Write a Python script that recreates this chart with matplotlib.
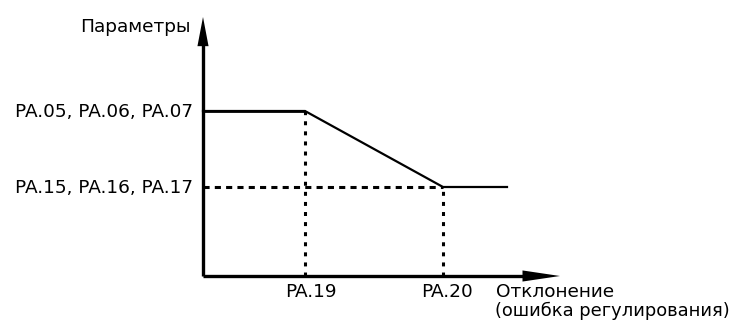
import matplotlib
matplotlib.use("Agg")
import matplotlib.pyplot as plt

plt.rcParams['font.family'] = ['DejaVu Sans']

# schematic values (horizontal: deviation, vertical: parameter level)
curve_x = [0, 102, 240, 304]
curve_y = [165, 165, 89, 89]
pa19 = 102
pa20 = 240
level_hi = 165
level_lo = 89
x_end = 357
y_end = 259

y_labels = ["PA.05, PA.06, PA.07", "PA.15, PA.16, PA.17"]
x_labels = ["PA.19", "PA.20"]
x_title = ["Отклонение", "(ошибка регулирования)"]
y_title = "Параметры"

fig = plt.figure(figsize=(7.35, 3.21), dpi=100)
ax = fig.add_axes([0, 0, 1, 1])
ax.set_xlim(-203, 735 - 203)
ax.set_ylim(-(321 - 276), 276)
ax.axis('off')

# axes with arrows
ax.plot([0, x_end - 30], [0, 0], color='black', lw=2.4, solid_capstyle='butt')
ax.plot([0, 0], [0, y_end - 25], color='black', lw=2.4, solid_capstyle='butt')
ax.annotate('', xy=(x_end, 0), xytext=(x_end - 40, 0),
            arrowprops=dict(arrowstyle='-|>,head_length=2.7,head_width=0.4',
                            mutation_scale=10, color='black', lw=0, shrinkA=0, shrinkB=0))
ax.annotate('', xy=(0, y_end), xytext=(0, y_end - 32),
            arrowprops=dict(arrowstyle='-|>,head_length=2.1,head_width=0.4',
                            mutation_scale=10, color='black', lw=0, shrinkA=0, shrinkB=0))

# parameter curve
ax.plot(curve_x, curve_y, color='black', lw=1.6, solid_joinstyle='miter')
ax.plot(curve_x[:2], curve_y[:2], color='black', lw=2.0, solid_capstyle='butt')

# guides
ax.plot([pa19, pa19], [0, level_hi], color='black', lw=2.2, ls=(0, (1.3, 2.0)))
ax.plot([pa20, pa20], [0, level_lo], color='black', lw=2.2, ls=(0, (1.3, 2.0)))
ax.plot([0, pa20], [level_lo, level_lo], color='black', lw=2.2, ls=(0, (2.0, 1.7)))

fs = 13.3
ax.text(-10, 159, y_labels[0], ha='right', va='baseline', fontsize=fs)
ax.text(-10, 83, y_labels[1], ha='right', va='baseline', fontsize=fs)
ax.text(pa19 + 6, -21, x_labels[0], ha='center', va='baseline', fontsize=fs)
ax.text(pa20 + 4, -21, x_labels[1], ha='center', va='baseline', fontsize=fs)
ax.text(293, -21, x_title[0], ha='left', va='baseline', fontsize=fs)
ax.text(292, -40, x_title[1], ha='left', va='baseline', fontsize=12.9)
ax.text(-12, 244, y_title, ha='right', va='baseline', fontsize=fs)

fig.savefig('out.png', dpi=100)
